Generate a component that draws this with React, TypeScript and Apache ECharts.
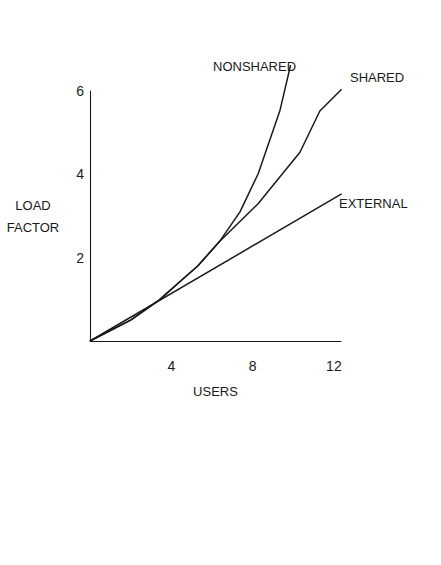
import React, { useEffect, useRef } from "react";
import * as echarts from "echarts";

const xTicks = [4, 8, 12];
const yTicks = [2, 4, 6];

const nonsharedX = [0, 2, 3.4, 4.6, 5.3, 6.36, 7.38, 8.28, 9.35, 9.87];
const nonsharedY = [0, 0.5, 0.98, 1.5, 1.8, 2.38, 3.1, 4.02, 5.54, 6.62];

const sharedX = [0, 2, 3.4, 4.6, 5.3, 6.36, 8.28, 10.33, 11.31, 12.38];
const sharedY = [0, 0.5, 0.98, 1.5, 1.8, 2.38, 3.3, 4.53, 5.52, 6.04];

const externalX = [0, 12.38];
const externalY = [0, 3.53];

const seriesNames = ["NONSHARED", "SHARED", "EXTERNAL"];

const FONT = "'Liberation Sans', Arial, sans-serif";
const INK = "#1a1a1a";

function pairs(xs: number[], ys: number[]) {
  return xs.map((x, i) => [x, ys[i]]);
}

export default function App() {
  const ref = useRef<HTMLDivElement>(null);
  useEffect(() => {
    if (!ref.current) return;
    const chart = echarts.init(ref.current, undefined, { renderer: "svg" });
    const lineStyle = { color: INK, width: 1.5 };
    chart.setOption({
      animation: false,
      backgroundColor: "#ffffff",
      grid: { left: 90, top: 91, width: 251, height: 250, containLabel: false },
      xAxis: {
        type: "value",
        min: 0,
        max: 12.35,
        interval: 4,
        name: "USERS",
        nameLocation: "middle",
        nameGap: 44,
        nameTextStyle: { fontFamily: FONT, fontSize: 13, color: INK },
        axisLine: { show: true, lineStyle: { color: INK, width: 1.1 } },
        axisTick: { show: false },
        splitLine: { show: false },
        axisLabel: {
          margin: 18,
          fontFamily: FONT,
          fontSize: 14,
          color: INK,
          formatter: (v: number) => (xTicks.includes(v) ? String(v) : ""),
        },
      },
      yAxis: {
        type: "value",
        min: 0,
        max: 6,
        interval: 2,
        name: "LOAD\nFACTOR",
        nameLocation: "middle",
        nameRotate: 0,
        nameGap: 57,
        nameTextStyle: {
          fontFamily: FONT,
          fontSize: 13,
          color: INK,
          lineHeight: 22,
          align: "center",
          padding: [0, 0, 4, 0],
        },
        axisLine: { show: true, lineStyle: { color: INK, width: 1.1 } },
        axisTick: { show: false },
        splitLine: { show: false },
        axisLabel: {
          margin: 6,
          fontFamily: FONT,
          fontSize: 14,
          color: INK,
          padding: [0, 0, 3, 0],
          formatter: (v: number) => (yTicks.includes(v) ? String(v) : ""),
        },
      },
      graphic: [
        {
          type: "text",
          left: 213,
          top: 60,
          style: { text: seriesNames[0], font: `13px ${FONT}`, fill: INK },
        },
        {
          type: "text",
          left: 350,
          top: 71,
          style: { text: seriesNames[1], font: `13px ${FONT}`, fill: INK },
        },
        {
          type: "text",
          left: 339,
          top: 197,
          style: { text: seriesNames[2], font: `13px ${FONT}`, fill: INK },
        },
      ],
      series: [
        {
          name: seriesNames[0],
          type: "line",
          data: pairs(nonsharedX, nonsharedY),
          symbol: "none",
          clip: false,
          lineStyle,
        },
        {
          name: seriesNames[1],
          type: "line",
          data: pairs(sharedX, sharedY),
          symbol: "none",
          clip: false,
          lineStyle,
        },
        {
          name: seriesNames[2],
          type: "line",
          data: pairs(externalX, externalY),
          symbol: "none",
          clip: false,
          lineStyle,
        },
      ],
    });
    return () => chart.dispose();
  }, []);
  return (
    <div
      ref={ref}
      style={{ position: "fixed", left: 0, top: 0, width: 441, height: 565 }}
    />
  );
}
